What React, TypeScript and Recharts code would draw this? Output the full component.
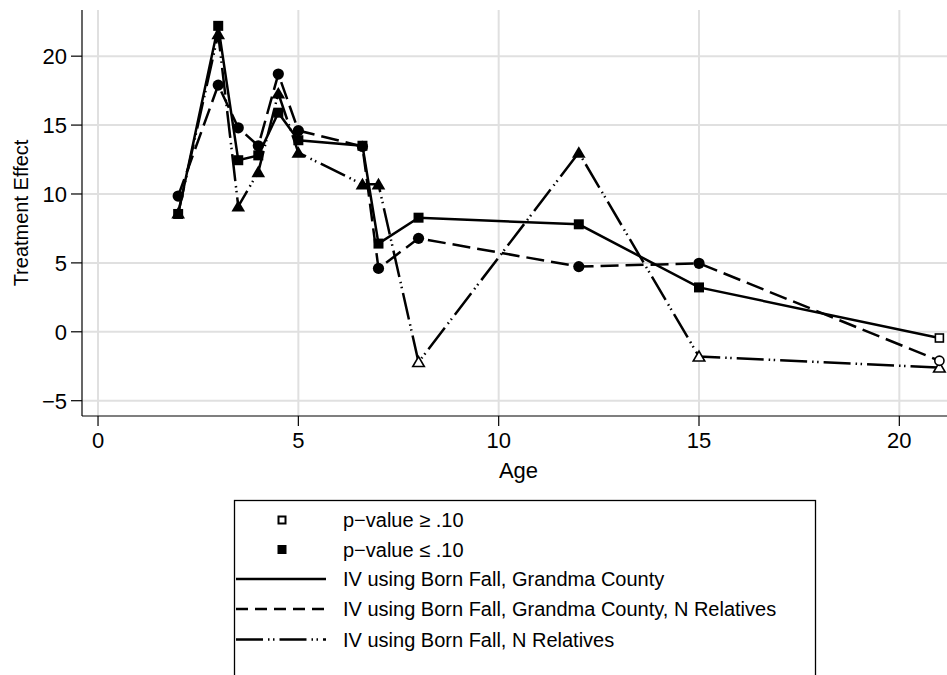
import React from 'react';
import { LineChart, Line, XAxis, YAxis, CartesianGrid } from 'recharts';

// ---- data ----
const ages = [2, 3, 3.5, 4, 4.5, 5, 6.6, 7, 8, 12, 15, 21];
const ivGrandmaCounty = [8.55, 22.2, 12.45, 12.8, 15.9, 13.9, 13.5, 6.4, 8.28, 7.8, 3.22, -0.45];
const ivGrandmaCountyRelatives = [9.85, 17.9, 14.8, 13.5, 18.7, 14.6, 13.45, 4.6, 6.78, 4.73, 4.97, -2.1];
const ivRelatives = [8.6, 21.6, 9.1, 11.6, 17.3, 13.0, 10.7, 10.7, -2.2, 13.0, -1.8, -2.6];
const sigGrandmaCounty = [true, true, true, true, true, true, true, true, true, true, true, false];
const sigGrandmaCountyRelatives = [true, true, true, true, true, true, true, true, true, true, true, false];
const sigRelatives = [true, true, true, true, true, true, true, true, false, true, false, false];

const xTicks = [0, 5, 10, 15, 20];
const yTicks = [-5, 0, 5, 10, 15, 20];
const xDomain = [-0.4, 21.19];
const yDomain = [-6.11, 23.35];

const legendMarkerLabels = ['p\u2212value \u2265 .10', 'p\u2212value \u2264 .10'];
const legendLineLabels = [
  'IV using Born Fall, Grandma County',
  'IV using Born Fall, Grandma County, N Relatives',
  'IV using Born Fall, N Relatives',
];

const FONT = '"Liberation Sans", Arial, Helvetica, sans-serif';
const DASH = '18 7';
const DASH_DOT = '27 5 1.5 3.5 1.5 5';

type Pt = { x: number; y: number; sig: boolean };
const build = (vals: number[], sig: boolean[]): Pt[] =>
  ages.map((x, i) => ({ x, y: vals[i], sig: sig[i] }));

const dataA = build(ivGrandmaCounty, sigGrandmaCounty);
const dataB = build(ivGrandmaCountyRelatives, sigGrandmaCountyRelatives);
const dataC = build(ivRelatives, sigRelatives);

const makeDot = (shape: 'square' | 'circle' | 'triangle') => (props: any) => {
  const { cx, cy, payload, index } = props;
  const k = `${shape}-${index}`;
  if (cx == null || cy == null) return <g key={k} />;
  const filled = payload && payload.sig;
  const fill = filled ? '#000' : '#fff';
  const sw = filled ? 0 : 1.6;
  if (shape === 'square') {
    const s = filled ? 10 : 8;
    return <rect key={k} x={cx - s / 2} y={cy - s / 2} width={s} height={s} fill={fill} stroke="#000" strokeWidth={sw} />;
  }
  if (shape === 'circle') {
    const r = filled ? 5.6 : 4.6;
    return <circle key={k} cx={cx} cy={cy} r={r} fill={fill} stroke="#000" strokeWidth={sw} />;
  }
  const h = filled ? 6.5 : 5.5;
  const pts = `${cx},${cy - h} ${cx - h * 1.05},${cy + h * 0.8} ${cx + h * 1.05},${cy + h * 0.8}`;
  return <polygon key={k} points={pts} fill={fill} stroke="#000" strokeWidth={sw} strokeLinejoin="miter" />;
};

const fmtY = (v: number) => (v < 0 ? `\u2212${Math.abs(v)}` : String(v));

const YTitle = (props: any) => {
  const vb = props.viewBox || { y: 10, height: 406 };
  const cy = vb.y + vb.height / 2;
  return (
    <text x={28} y={cy} transform={`rotate(-90, 28, ${cy})`} textAnchor="middle" fontSize={20} fill="#000" fontFamily={FONT}>
      Treatment Effect
    </text>
  );
};

const XTitle = (props: any) => {
  const vb = props.viewBox || { x: 82, width: 865, y: 416 };
  const cx = vb.x + vb.width / 2 + 4;
  return (
    <text x={cx} y={478} textAnchor="middle" fontSize={22} fill="#000" fontFamily={FONT}>
      Age
    </text>
  );
};

const LegendBox = () => {
  const left = 234;
  const lineX1 = 236;
  const lineX2 = 326;
  const markX = 282;
  const textX = 343;
  const rows = [520, 549.5, 579, 609, 639.5];
  return (
    <svg width={947} height={675} style={{ position: 'absolute', left: 0, top: 0, pointerEvents: 'none' }}>
      <rect x={left + 0.5} y={500.5} width={581} height={220} fill="#fff" stroke="#000" strokeWidth={1.3} />
      <rect x={markX - 3.5} y={rows[0] - 3.5} width={7} height={7} fill="#fff" stroke="#000" strokeWidth={2} />
      <rect x={markX - 4.5} y={rows[1] - 4.5} width={9} height={9} fill="#000" />
      <line x1={lineX1} x2={lineX2} y1={rows[2]} y2={rows[2]} stroke="#000" strokeWidth={2.5} />
      <line x1={lineX1} x2={lineX2} y1={rows[3]} y2={rows[3]} stroke="#000" strokeWidth={2.5} strokeDasharray="12 7" />
      <line x1={lineX1} x2={lineX2} y1={rows[4]} y2={rows[4]} stroke="#000" strokeWidth={2.5} strokeDasharray={DASH_DOT} />
      {legendMarkerLabels.map((t, i) => (
        <text key={t} x={textX} y={rows[i] + 7} fontSize={20} fill="#000" fontFamily={FONT}>{t}</text>
      ))}
      {legendLineLabels.map((t, i) => (
        <text key={t} x={textX} y={rows[i + 2] + 7} fontSize={20} fill="#000" fontFamily={FONT}>{t}</text>
      ))}
    </svg>
  );
};

export default function App() {
  return (
    <div style={{ position: 'absolute', left: 0, top: 0, width: 947, height: 675, background: '#fff', fontFamily: FONT }}>
      <LineChart width={947} height={675} margin={{ top: 10, right: 0, bottom: 199, left: 0 }}>
        <CartesianGrid stroke="#e0e0e0" strokeWidth={2} horizontalValues={yTicks} verticalValues={xTicks} />
        <XAxis
          type="number"
          dataKey="x"
          domain={xDomain}
          ticks={xTicks}
          allowDataOverflow
          height={60}
          tickSize={10}
          tickMargin={6}
          axisLine={{ stroke: '#000', strokeWidth: 1.2 }}
          tickLine={{ stroke: '#000', strokeWidth: 1.2 }}
          tick={{ fill: '#000', fontSize: 22, fontFamily: FONT }}
          label={<XTitle />}
        />
        <YAxis
          type="number"
          dataKey="y"
          domain={yDomain}
          ticks={yTicks}
          allowDataOverflow
          width={82}
          tickSize={11}
          tickMargin={4}
          tickFormatter={fmtY}
          axisLine={{ stroke: '#000', strokeWidth: 1.2 }}
          tickLine={{ stroke: '#000', strokeWidth: 1.2 }}
          tick={{ fill: '#000', fontSize: 22, fontFamily: FONT }}
          label={<YTitle />}
        />
        <Line data={dataC} dataKey="y" type="linear" stroke="#000" strokeWidth={2.5} strokeDasharray={DASH_DOT} dot={makeDot('triangle')} activeDot={false} isAnimationActive={false} />
        <Line data={dataB} dataKey="y" type="linear" stroke="#000" strokeWidth={2.5} strokeDasharray={DASH} dot={makeDot('circle')} activeDot={false} isAnimationActive={false} />
        <Line data={dataA} dataKey="y" type="linear" stroke="#000" strokeWidth={2.5} dot={makeDot('square')} activeDot={false} isAnimationActive={false} />
      </LineChart>
      <LegendBox />
    </div>
  );
}
